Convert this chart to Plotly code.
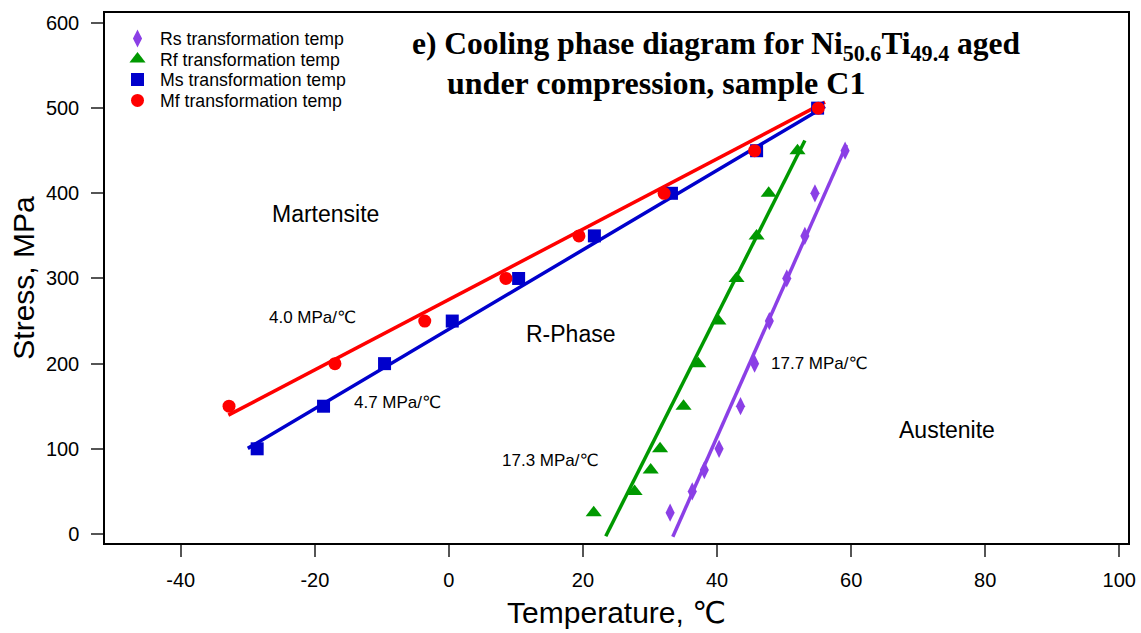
import plotly.graph_objects as go

# ---- data ----
stress_R = [25, 50, 75, 100, 150, 200, 250, 300, 350, 400, 450]
rs_temp = [33.0, 36.3, 38.1, 40.3, 43.5, 45.6, 47.8, 50.4, 53.1, 54.6, 59.1]
rf_temp = [21.6, 27.7, 30.1, 31.5, 35.0, 37.2, 40.2, 42.9, 45.9, 47.7, 52.0]

stress_ms = [100, 150, 200, 250, 300, 350, 400, 450, 500]
ms_temp = [-28.6, -18.7, -9.6, 0.5, 10.4, 21.7, 33.2, 45.9, 55.0]

stress_mf = [150, 200, 250, 300, 350, 400, 450, 500]
mf_temp = [-32.8, -17.0, -3.6, 8.5, 19.4, 32.1, 45.6, 55.1]

# linear-fit lines as drawn in the reference (end points, data units)
mf_fit_temp, mf_fit_stress = [-32.9, 56.1], [139.5, 507.0]
ms_fit_temp, ms_fit_stress = [-30.0, 56.1], [100.5, 502.0]
rf_fit_temp, rf_fit_stress = [23.4, 53.1], [-2.6, 461.9]
rs_fit_temp, rs_fit_stress = [33.4, 59.3], [-3.3, 456.9]

x_ticks = [-40, -20, 0, 20, 40, 60, 80, 100]
x_tick_labels = ["-40", "-20", "0", "20", "40", "60", "80", "100"]
y_ticks = [0, 100, 200, 300, 400, 500, 600]
y_tick_labels = ["0", "100", "200", "300", "400", "500", "600"]

C_RS = "#8b3fe6"
C_RF = "#009900"
C_MS = "#0000cc"
C_MF = "#ff0000"

fig = go.Figure()

for tx, sy, col in [
    (mf_fit_temp, mf_fit_stress, C_MF),
    (ms_fit_temp, ms_fit_stress, C_MS),
    (rf_fit_temp, rf_fit_stress, C_RF),
    (rs_fit_temp, rs_fit_stress, C_RS),
]:
    fig.add_trace(go.Scatter(x=tx, y=sy, mode="lines", line=dict(color=col, width=3.5),
                             showlegend=False, hoverinfo="skip"))

fig.add_trace(go.Scatter(x=rs_temp, y=stress_R, mode="markers", name="Rs transformation temp",
                         legend="legend",
                         marker=dict(symbol="diamond-tall", size=13, color=C_RS)))
fig.add_trace(go.Scatter(x=rf_temp, y=stress_R, mode="markers", name="Rf transformation temp",
                         legend="legend2",
                         marker=dict(symbol="triangle-up", size=14, color=C_RF)))
fig.add_trace(go.Scatter(x=ms_temp, y=stress_ms, mode="markers", name="Ms transformation temp",
                         legend="legend3",
                         marker=dict(symbol="square", size=13, color=C_MS)))
fig.add_trace(go.Scatter(x=mf_temp, y=stress_mf, mode="markers", name="Mf transformation temp",
                         legend="legend4",
                         marker=dict(symbol="circle", size=13, color=C_MF)))

sans = "Liberation Sans, Arial, DejaVu Sans"
serif = "Liberation Serif, Times New Roman, serif"

W, H = 1141, 633
L, R, T, B = 105, 13, 13, 89.5
pw, ph = W - L - R, H - T - B

def px(x):
    return (x - L) / pw

def py(y):
    return (H - B - y) / ph

def note(text, x, y, size, xanchor="center", font=sans):
    fig.add_annotation(text=text, x=px(x), y=py(y), xref="paper", yref="paper", showarrow=False,
                       xanchor=xanchor, yanchor="middle",
                       font=dict(family=font, size=size, color="black"))

note("<b>e) Cooling phase diagram for Ni<sub>50.6</sub>Ti<sub>49.4</sub> aged</b>", 410, 46, 31.5, "left", serif)
note("<b>under compression, sample C1</b>", 445, 83, 32, "left", serif)

note("Martensite", 325, 214, 23)
note("R-Phase", 570, 334, 23)
note("Austenite", 947, 430, 23)
note("4.0 MPa/℃", 312, 318, 17)
note("4.7 MPa/℃", 397, 403, 17)
note("17.3 MPa/℃", 550, 461, 17)
note("17.7 MPa/℃", 819, 364, 17)

def leg(yc):
    return dict(x=px(115), y=py(yc), xanchor="left", yanchor="middle",
                bgcolor="rgba(0,0,0,0)", font=dict(size=17.7, family=sans),
                itemwidth=35, tracegroupgap=0)

fig.update_layout(
    width=W, height=H,
    margin=dict(l=L, r=R, t=T, b=B, pad=0, autoexpand=False),
    paper_bgcolor="white", plot_bgcolor="white",
    font=dict(family=sans, size=18, color="black"),
    showlegend=True,
    legend=leg(39), legend2=leg(59.5), legend3=leg(80), legend4=leg(101),
    xaxis=dict(range=[-51.3, 101.3], tickvals=x_ticks, ticktext=x_tick_labels,
               ticks="outside", ticklen=12, automargin=False,
               tickcolor="#555", tickwidth=1.5, showline=True, mirror=True,
               linecolor="black", linewidth=1.5, showgrid=False, zeroline=False,
               tickfont=dict(size=20), ticklabelstandoff=6,
               title=dict(text="Temperature, ℃", font=dict(size=30), standoff=12)),
    yaxis=dict(range=[-10.6, 611.7], tickvals=y_ticks, ticktext=y_tick_labels,
               ticks="outside", ticklen=12, automargin=False,
               tickcolor="#555", tickwidth=1.5, showline=True, mirror=True,
               linecolor="black", linewidth=1.5, showgrid=False, zeroline=False,
               tickfont=dict(size=20), ticklabelstandoff=8,
               title=dict(text="Stress, MPa", font=dict(size=30), standoff=2)),
)

fig.write_html("out.html")
